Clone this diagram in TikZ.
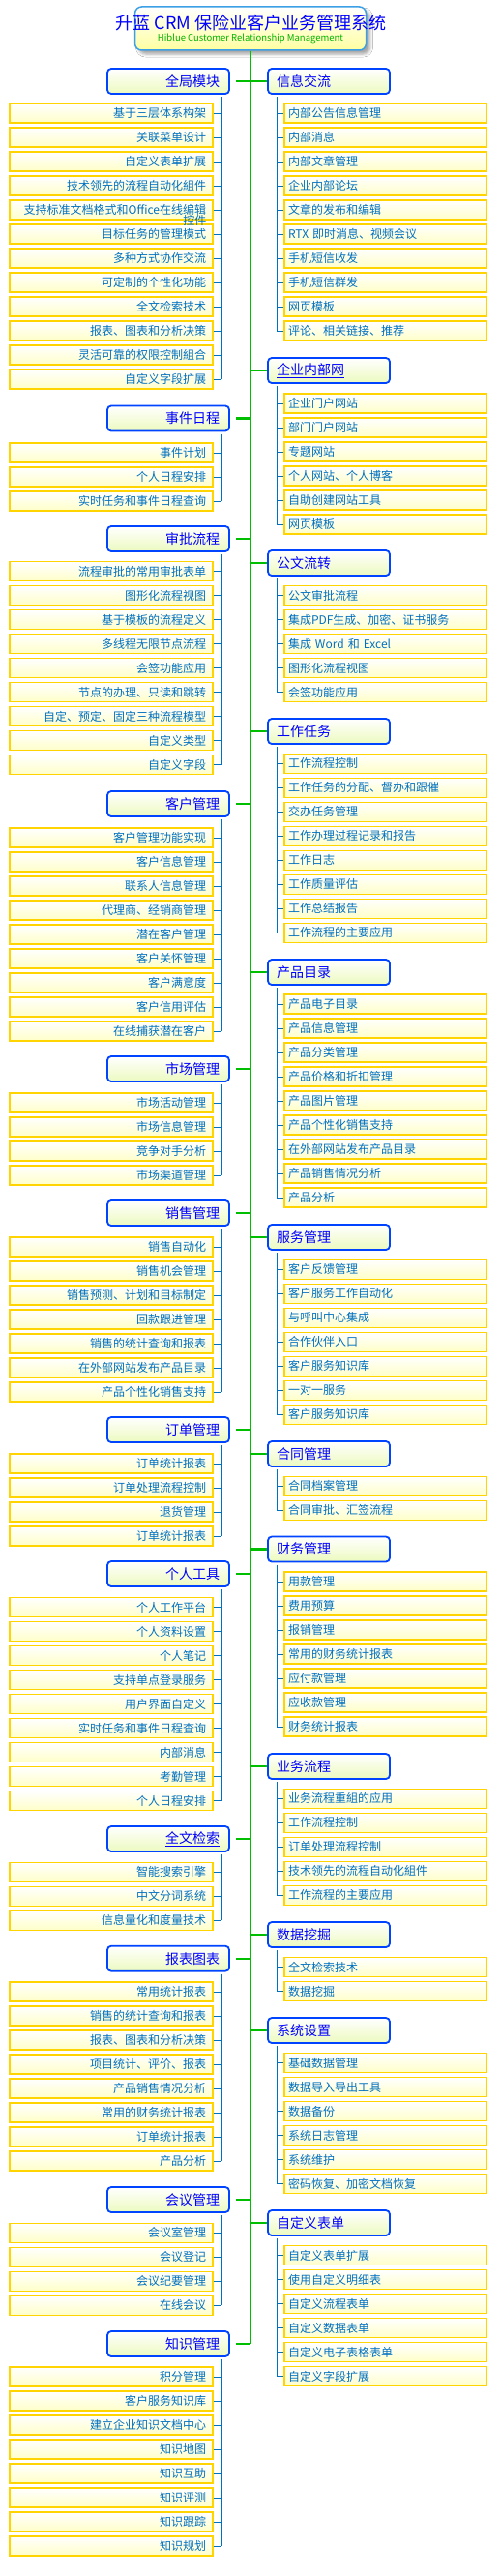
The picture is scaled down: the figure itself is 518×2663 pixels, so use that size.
\documentclass[tikz,border=0pt]{standalone}
\usepackage{fontspec}
\setmainfont{Noto Sans CJK SC}
\usetikzlibrary{shadows.blur}
\definecolor{leafborder}{RGB}{255,212,0}
\definecolor{leaftext}{RGB}{0,112,192}
\definecolor{leafbot}{RGB}{255,255,200}
\definecolor{mainborder}{RGB}{0,68,255}
\definecolor{maintext}{RGB}{0,0,255}
\definecolor{mainbot}{RGB}{236,250,190}
\definecolor{trunkgreen}{RGB}{0,190,0}
\definecolor{brblue}{RGB}{0,112,192}
\definecolor{titleborder}{RGB}{60,160,230}
\definecolor{titlebot}{RGB}{255,255,160}
\definecolor{subgreen}{RGB}{0,180,0}
\tikzset{
  leafL/.style={draw=leafborder, line width=1.2pt, top color=white, bottom color=leafbot,
    minimum height=20pt, text width=196pt, inner xsep=7pt, inner ysep=0pt, align=right,
    text=leaftext, font=\fontsize{12}{14}\selectfont},
  leafR/.style={draw=leafborder, line width=1.2pt, top color=white, bottom color=leafbot,
    minimum height=20pt, text width=201pt, inner xsep=4pt, inner ysep=0pt, align=left,
    text=leaftext, font=\fontsize{12}{14}\selectfont},
  lefttext/.style={text=leaftext, font=\fontsize{12}{14}\selectfont, inner sep=0pt},
  mainL/.style={draw=mainborder, line width=1.8pt, rounded corners=4pt, top color=white,
    bottom color=mainbot, minimum height=26pt, text width=106pt, inner xsep=10pt,
    inner ysep=0pt, align=right, text=maintext, font=\fontsize{14}{16}\selectfont},
  mainR/.style={draw=mainborder, line width=1.8pt, rounded corners=4pt, top color=white,
    bottom color=mainbot, minimum height=26pt, text width=108pt, inner xsep=9pt,
    inner ysep=0pt, align=left, text=maintext, font=\fontsize{14}{16}\selectfont},
  gr/.style={draw=trunkgreen, line width=2.2pt},
  br/.style={draw=brblue, line width=1pt},
  titlebox/.style={draw=titleborder, line width=1.5pt, rounded corners=7pt, top color=white,
    bottom color=titlebot, minimum width=239pt, minimum height=45pt,
    blur shadow={shadow xshift=4pt, shadow yshift=-4pt, shadow blur radius=3pt, shadow opacity=35}},
}
\newcommand\branchL[5]{%
  \node[mainL] (#1) at (174,#2) {#3};
  \draw[gr, shorten <=6pt] (#1.east) -- (#1.east -| trk);
  \coordinate (#1-b) at (229,{#2+16});
  \foreach \t [count=\i from 0] in {#5} {
    \node[leafL] (#1-\i) at (115,{#4+25*\i}) {\t};
    \draw[br] (#1-\i.east) -- (#1-\i.east -| #1-b);
    \coordinate (#1-e) at (#1-\i.east -| #1-b);
  }
  \draw[br] (#1-b) -- (#1-e);
}
\newcommand\branchR[5]{%
  \node[mainR] (#1) at (340,#2) {#3};
  \draw[gr] (#1.west -| trk) -- (#1.west);
  \coordinate (#1-b) at (286,{#2+16});
  \foreach \t [count=\i from 0] in {#5} {
    \node[leafR] (#1-\i) at (398.5,{#4+25*\i}) {\t};
    \draw[br] (#1-\i.west -| #1-b) -- (#1-\i.west);
    \coordinate (#1-e) at (#1-\i.west -| #1-b);
  }
  \draw[br] (#1-b) -- (#1-e);
}
\begin{document}
\begin{tikzpicture}[x=1pt,y=-1pt]
\useasboundingbox (0,0) rectangle (518,2663);
\fill[white] (0,0) rectangle (518,2663);
% title
\node[titlebox] (title) at (259,29.5) {};
\node[text=maintext, font=\fontsize{18}{20}\selectfont, inner sep=0pt] (ttl) at (259.5,24) {升蓝 CRM 保险业客户业务管理系统};
\node[text=subgreen, font=\fontsize{9.5}{11}\selectfont, inner sep=0pt] (sub) at (259,40) {Hiblue Customer Relationship Management};
% trunk
\coordinate (trk) at (259,55);
\coordinate (trkE) at (259,2423);
\draw[gr] (title.south) -- (trkE);
% left branches
\branchL{L1}{84}{全局模块}{117}{基于三层体系构架,关联菜单设计,自定义表单扩展,技术领先的流程自动化組件,支持标准文档格式和Office在线编辑,目标任务的管理模式,多种方式协作交流,可定制的个性化功能,全文检索技术,报表、图表和分析决策,灵活可靠的权限控制組合,自定义字段扩展}
\node[lefttext, anchor=east] (L1-4b) at ([xshift=-7pt, yshift=-11pt]L1-4.east) {控件};
\branchL{L2}{432.5}{事件日程}{468}{事件计划,个人日程安排,实时任务和事件日程查询}
\branchL{L3}{557}{审批流程}{590.7}{流程审批的常用审批表单,图形化流程视图,基于模板的流程定义,多线程无限节点流程,会签功能应用,节点的办理、只读和跳转,自定、预定、固定三种流程模型,自定义类型,自定义字段}
\branchL{L4}{831}{客户管理}{866}{客户管理功能实现,客户信息管理,联系人信息管理,代理商、经销商管理,潜在客户管理,客户关怀管理,客户满意度,客户信用评估,在线捕获潜在客户}
\branchL{L5}{1105}{市场管理}{1140}{市场活动管理,市场信息管理,竞争对手分析,市场渠道管理}
\branchL{L6}{1254}{销售管理}{1289}{销售自动化,销售机会管理,销售预测、计划和目标制定,回款跟进管理,销售的统计查询和报表,在外部网站发布产品目录,产品个性化销售支持}
\branchL{L7}{1478}{订单管理}{1513}{订单统计报表,订单处理流程控制,退货管理,订单统计报表}
\branchL{L8}{1627}{个人工具}{1661.7}{个人工作平台,个人资料设置,个人笔记,支持单点登录服务,用户界面自定义,实时任务和事件日程查询,内部消息,考勤管理,个人日程安排}
\branchL{L9}{1901}{\underline{全文检索}}{1935.3}{智能搜索引擎,中文分词系统,信息量化和度量技术}
\branchL{L10}{2024.7}{报表图表}{2059}{常用统计报表,销售的统计查询和报表,报表、图表和分析决策,项目统计、评价、报表,产品销售情况分析,常用的财务统计报表,订单统计报表,产品分析}
\branchL{L11}{2274}{会议管理}{2308.3}{会议室管理,会议登记,会议纪要管理,在线会议}
\branchL{L12}{2423}{知识管理}{2457}{积分管理,客户服务知识库,建立企业知识文档中心,知识地图,知识互助,知识评测,知识跟踪,知识规划}
% right branches
\branchR{R1}{84}{信息交流}{117}{内部公告信息管理,内部消息,内部文章管理,企业内部论坛,文章的发布和编辑,RTX 即时消息、视频会议,手机短信收发,手机短信群发,网页模板,评论、相关链接、推荐}
\branchR{R2}{383}{\underline{企业内部网}}{417}{企业门户网站,部门门户网站,专题网站,个人网站、个人博客,自助创建网站工具,网页模板}
\branchR{R3}{582}{公文流转}{615.7}{公文审批流程,集成PDF生成、加密、证书服务,集成 Word 和 Excel,图形化流程视图,会签功能应用}
\branchR{R4}{756}{工作任务}{789.3}{工作流程控制,工作任务的分配、督办和跟催,交办任务管理,工作办理过程记录和报告,工作日志,工作质量评估,工作总结报告,工作流程的主要应用}
\branchR{R5}{1005}{产品目录}{1038}{产品电子目录,产品信息管理,产品分类管理,产品价格和折扣管理,产品图片管理,产品个性化销售支持,在外部网站发布产品目录,产品销售情况分析,产品分析}
\branchR{R6}{1279}{服务管理}{1312.3}{客户反馈管理,客户服务工作自动化,与呼叫中心集成,合作伙伴入口,客户服务知识库,一对一服务,客户服务知识库}
\branchR{R7}{1503}{合同管理}{1536.3}{合同档案管理,合同审批、汇签流程}
\branchR{R8}{1601.5}{财务管理}{1635}{用款管理,费用预算,报销管理,常用的财务统计报表,应付款管理,应收款管理,财务统计报表}
\branchR{R9}{1826}{业务流程}{1859.3}{业务流程重組的应用,工作流程控制,订单处理流程控制,技术领先的流程自动化組件,工作流程的主要应用}
\branchR{R10}{2000}{数据挖掘}{2033.7}{全文检索技术,数据挖掘}
\branchR{R11}{2099}{系统设置}{2132.7}{基础数据管理,数据导入导出工具,数据备份,系统日志管理,系统维护,密码恢复、加密文档恢复}
\branchR{R12}{2298}{自定义表单}{2331.7}{自定义表单扩展,使用自定义明细表,自定义流程表单,自定义数据表单,自定义电子表格表单,自定义字段扩展}
\end{tikzpicture}
\end{document}
